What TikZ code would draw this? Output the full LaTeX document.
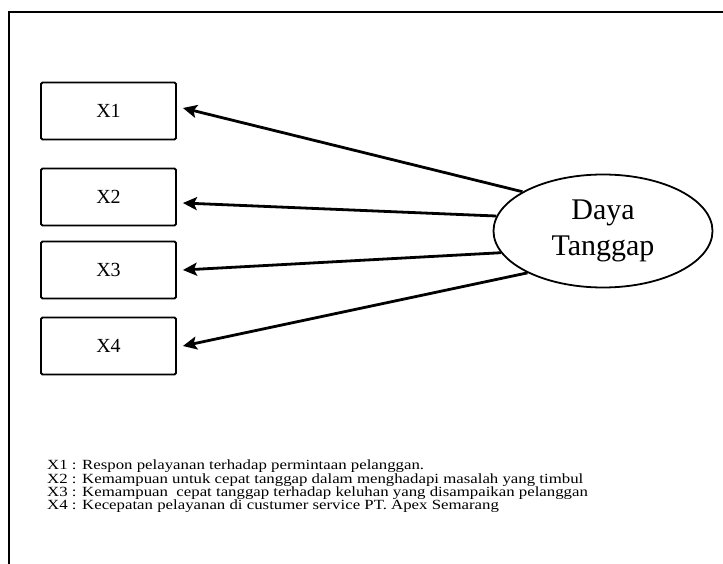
\documentclass[tikz,border=0pt]{standalone}
\usepackage{fontspec}
\setmainfont{Liberation Serif}
\usetikzlibrary{shapes.geometric,arrows.meta}

\begin{document}
\begin{tikzpicture}[x=1pt, y=-1pt,
		box/.style={draw, line width=1.8pt, rounded corners=1.5pt, minimum width=135pt, minimum height=57pt, font=\fontsize{20}{24}\selectfont},
		arr/.style={line width=2.8pt, -{Stealth[length=14pt,width=13pt,inset=3pt]}}]
			\useasboundingbox (0,0) rectangle (723,564);
			\draw [line width=2pt] (8.5,564) -- (8.5,12.5) -- (723,12.5);

			\node [box] (x1) at (108.5,111) {X1};
			\node [box] (x2) at (108.5,197) {X2};
			\node [box] (x3) at (108.5,270) {X3};
			\node [box] (x4) at (108.5,346) {X4};

			\node [draw, ellipse, line width=1.8pt, minimum width=219pt, minimum height=113pt, inner sep=0pt, align=center, font=\fontsize{30}{36}\selectfont] (dt) at (603,231) {Daya\\Tanggap};

			\draw [arr] (dt.154) -- ([xshift=6pt,yshift=3pt]x1.east);
			\draw [arr] (dt.172) -- ([xshift=6pt,yshift=-6pt]x2.east);
			\draw [arr] (dt.192) -- ([xshift=6pt]x3.east);
			\draw [arr] (dt.209) -- ([xshift=6pt]x4.east);

			\node [anchor=north west, inner sep=0pt] (ket) at (47,460) {\scalebox{1.2}[1]{\fontsize{14}{12}\selectfont
				\begin{tabular}{@{}l@{}}
				X1 : Respon pelayanan terhadap permintaan pelanggan.\\
				X2 : Kemampuan untuk cepat tanggap dalam menghadapi masalah yang timbul\\
				X3 : Kemampuan \ cepat tanggap terhadap keluhan yang disampaikan pelanggan\\
				X4 : Kecepatan pelayanan di custumer service PT. Apex Semarang
				\end{tabular}}};

		\end{tikzpicture}
\end{document}
